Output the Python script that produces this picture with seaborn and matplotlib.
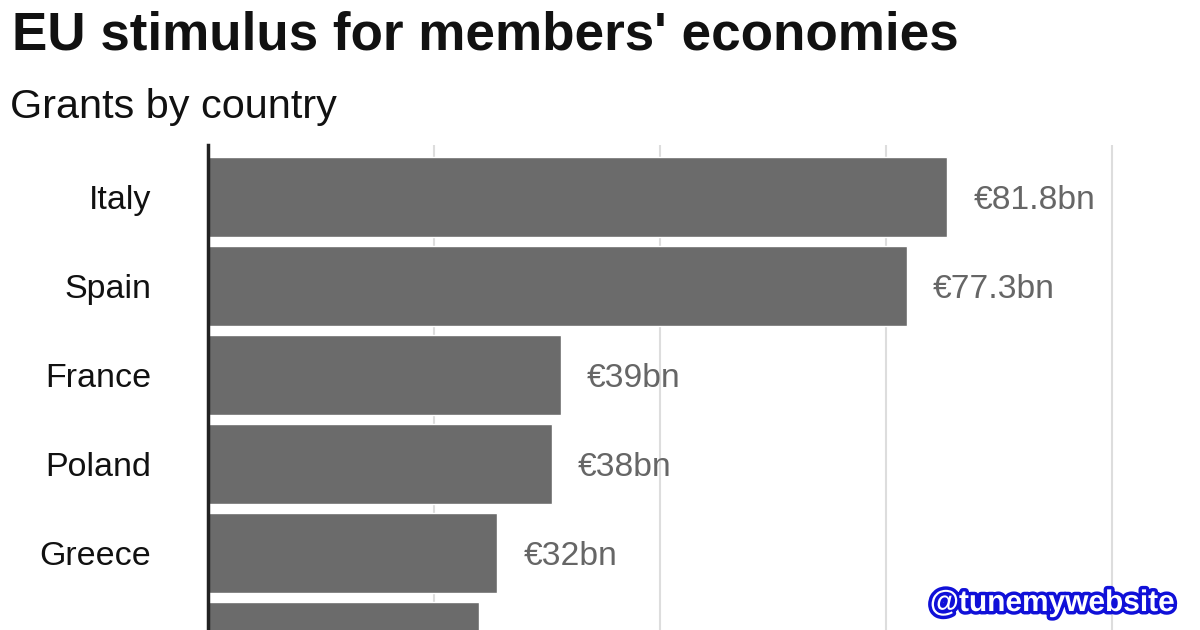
import matplotlib
matplotlib.use("Agg")
import matplotlib.pyplot as plt
import matplotlib.patheffects as pe
import seaborn as sns
import pandas as pd

countries = ["Italy", "Spain", "France", "Poland", "Greece", "Romania"]
grants = [81.8, 77.3, 39, 38, 32, 30.0]
value_labels = ["€81.8bn", "€77.3bn", "€39bn", "€38bn", "€32bn", "€30bn"]
x_ticks = [0, 25, 50, 75, 100]

sns.set_theme(style="white")
plt.rcParams["font.family"] = ["Liberation Sans", "DejaVu Sans"]

df = pd.DataFrame({"country": countries, "grant": grants})

fig = plt.figure(figsize=(12, 6.3), dpi=100)
ax = fig.add_axes([208 / 1200, 0.0, 1 - 208 / 1200, 1 - 145 / 630])

sns.barplot(data=df, x="grant", y="country", color="#6b6b6b", saturation=1,
            width=0.9, ax=ax, zorder=3)

ax.set_xlim(0, 100 * 992 / 904)
ax.set_ylim(4.865, -0.584)
ax.set_xticks(x_ticks)
ax.xaxis.grid(True, color="#dddddd", linewidth=1.5, zorder=0)
ax.set_axisbelow(True)
ax.tick_params(axis="x", bottom=False, labelbottom=False)
ax.tick_params(axis="y", left=False, labelsize=24.5, pad=35, labelcolor="#111111")
for lbl in ax.get_yticklabels():
    lbl.set_verticalalignment("center_baseline")
for s in ["top", "right", "bottom"]:
    ax.spines[s].set_visible(False)
ax.spines["left"].set_color("#222222")
ax.spines["left"].set_linewidth(2.5)
ax.spines["left"].set_zorder(5)
ax.set_xlabel("")
ax.set_ylabel("")

for i, (v, lab) in enumerate(zip(grants, value_labels)):
    ax.annotate(lab, xy=(v, i), xytext=(19, 0), textcoords="offset points",
                va="center_baseline", ha="left", fontsize=24.2, color="#666666")

fig.text(12 / 1200, 1 - 50 / 630, "EU stimulus for members' economies",
         fontsize=38.2, fontweight="bold", color="#111111", ha="left", va="baseline")
fig.text(10 / 1200, 1 - 118 / 630, "Grants by country",
         fontsize=29.8, color="#111111", ha="left", va="baseline")

wm = fig.text(1175 / 1200, 1 - 611 / 630, "@tunemywebsite", fontsize=21.5,
              fontweight="bold", color="white", ha="right", va="baseline")
wm.set_path_effects([pe.Stroke(linewidth=5, foreground="#1010d8"), pe.Normal()])

fig.savefig("out.png", dpi=100)
